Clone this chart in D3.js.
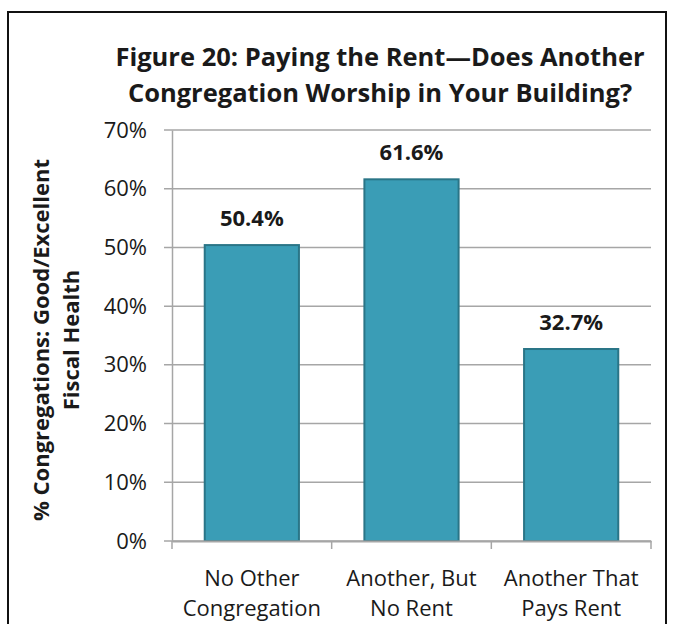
<!DOCTYPE html>
<html>
<head>
<meta charset="utf-8">
<script src="https://cdn.jsdelivr.net/npm/d3@7"></script>
<style>
  body { margin: 0; background: #fff; }
  svg text { font-family: "Open Sans", Lato, sans-serif; fill: #1a1a1a; }
</style>
</head>
<body>
<div id="chart"></div>
<script>
// data
var categories = ["No Other Congregation", "Another, But No Rent", "Another That Pays Rent"];
var catLines = [["No Other", "Congregation"], ["Another, But", "No Rent"], ["Another That", "Pays Rent"]];
var values = [50.4, 61.6, 32.7];
var yTicks = [0, 10, 20, 30, 40, 50, 60, 70];

var svgWidth = 673;
var svgHeight = 624;
var margin = { top: 130, right: 22, bottom: 83, left: 172 };
var width = 651 - margin.left;
var height = 541 - margin.top;

var svg = d3.select("#chart")
    .append("svg")
    .attr("width", svgWidth)
    .attr("height", svgHeight);

// outer frame (runs off the bottom)
svg.append("rect")
    .attr("x", 8).attr("y", 12)
    .attr("width", 658).attr("height", 640)
    .attr("fill", "none")
    .attr("stroke", "#111")
    .attr("stroke-width", 2);

// title
var title = svg.append("text")
    .attr("text-anchor", "middle")
    .attr("font-weight", "bold")
    .attr("font-size", 25.5);
title.append("tspan").attr("x", 380).attr("y", 66).text("Figure 20: Paying the Rent\u2014Does Another");
title.append("tspan").attr("x", 380).attr("y", 102).text("Congregation Worship in Your Building?");

var chartGroup = svg.append("g")
    .attr("transform", `translate(${margin.left},${margin.top})`);

var xScale = d3.scaleBand()
    .domain(categories)
    .range([0, width])
    .paddingInner(0.41)
    .paddingOuter(0.205);

var yScale = d3.scaleLinear()
    .domain([0, 70])
    .range([height, 0]);

// gridlines
chartGroup.append("g").selectAll("line")
    .data(yTicks)
    .enter()
    .append("line")
    .attr("x1", -8)
    .attr("x2", width)
    .attr("y1", d => yScale(d))
    .attr("y2", d => yScale(d))
    .attr("stroke", "#a6a6a6")
    .attr("stroke-width", 1.5);

// y axis
var yAxis = d3.axisLeft(yScale)
    .tickValues(yTicks)
    .tickFormat(d => d + "%")
    .tickSize(0)
    .tickPadding(25);

var yAxisG = chartGroup.append("g").call(yAxis);
yAxisG.select(".domain").attr("stroke", "#a6a6a6").attr("stroke-width", 1.5);
yAxisG.selectAll("text")
    .attr("font-size", 22)
    .attr("font-family", "'Open Sans', Lato, sans-serif")
    .attr("fill", "#1a1a1a");

// bars
chartGroup.selectAll("rect.bar")
    .data(values)
    .enter()
    .append("rect")
    .attr("class", "bar")
    .attr("x", (d, i) => xScale(categories[i]))
    .attr("y", d => yScale(d))
    .attr("width", xScale.bandwidth())
    .attr("height", d => height - yScale(d))
    .attr("fill", "#3a9db6")
    .attr("stroke", "#2a7587")
    .attr("stroke-width", 2);

// x axis
var xAxis = d3.axisBottom(xScale).tickSize(0).tickFormat("");
var xAxisG = chartGroup.append("g")
    .attr("transform", `translate(0,${height})`)
    .call(xAxis);
xAxisG.select(".domain").attr("stroke", "#a6a6a6").attr("stroke-width", 2);

// tick marks sit between categories
var tickPos = [0, width / 3, 2 * width / 3, width];
xAxisG.selectAll("line.sep")
    .data(tickPos)
    .enter()
    .append("line")
    .attr("class", "sep")
    .attr("x1", d => d).attr("x2", d => d)
    .attr("y1", 0).attr("y2", 8)
    .attr("stroke", "#a6a6a6")
    .attr("stroke-width", 1.5);

// category labels
catLines.forEach(function(lines, i) {
    var cx = xScale(categories[i]) + xScale.bandwidth() / 2;
    var t = chartGroup.append("text")
        .attr("text-anchor", "middle")
        .attr("font-size", 22);
    lines.forEach(function(l, j) {
        t.append("tspan").attr("x", cx).attr("y", height + 45 + j * 30).text(l);
    });
});

// value labels
chartGroup.selectAll("text.val")
    .data(values)
    .enter()
    .append("text")
    .attr("class", "val")
    .attr("text-anchor", "middle")
    .attr("font-weight", "bold")
    .attr("font-size", 22)
    .attr("x", (d, i) => xScale(categories[i]) + xScale.bandwidth() / 2)
    .attr("y", d => yScale(d) - 19)
    .text(d => d.toFixed(1) + "%");

// y axis title
var yTitle = svg.append("text")
    .attr("transform", "translate(0,340) rotate(-90)")
    .attr("text-anchor", "middle")
    .attr("font-weight", "bold")
    .attr("font-size", 22);
yTitle.append("tspan").attr("x", 0).attr("y", 49).text("% Congregations: Good/Excellent");
yTitle.append("tspan").attr("x", 0).attr("y", 79).text("Fiscal Health");
</script>
</body>
</html>
